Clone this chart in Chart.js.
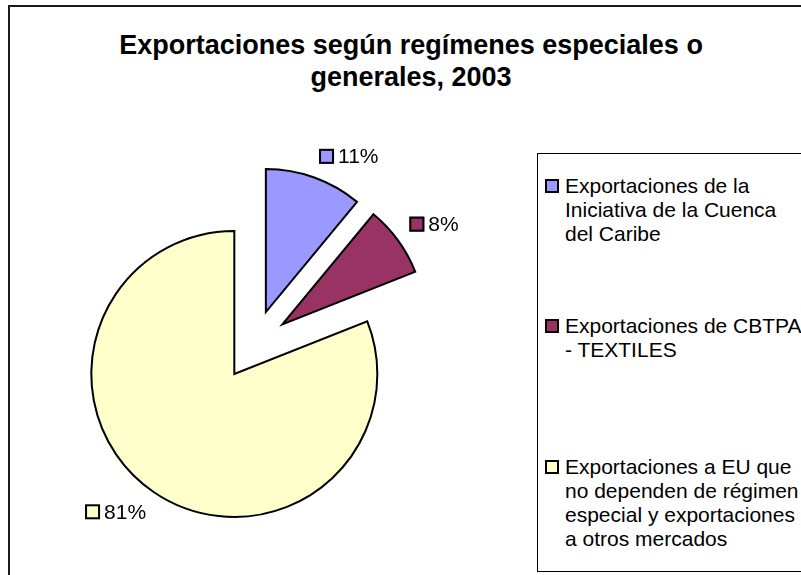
<!DOCTYPE html>
<html>
<head>
<meta charset="utf-8">
<script src="https://cdn.jsdelivr.net/npm/chart.js@4/dist/chart.umd.min.js"></script>
<style>
  html, body { margin: 0; padding: 0; background: #fff; overflow: hidden; }
  body { width: 801px; height: 575px; position: relative; font-family: 'Liberation Sans', Arial, sans-serif; }
  #frame { position: absolute; left: 8px; top: 5px; width: 820px; height: 620px; border: 2px solid #1a1a1a; }
  #title { position: absolute; left: 0; width: 822px; top: 29px; text-align: center;
           font: bold 27px 'Liberation Sans', Arial, sans-serif; line-height: 32px; color: #000; }
  #pie-wrap { position: absolute; left: 34px; top: 115px; width: 440px; height: 460px; }
  #legend { position: absolute; left: 537px; top: 153px; width: 300px; height: 417px; border: 1px solid #000; }
  .item { position: absolute; left: 7px; font-size: 21px; line-height: 24px; color: #000; }
  .item .key { position: absolute; left: 0; top: 5px; width: 10px; height: 10px; border: 2px solid #000; }
  .item .txt { margin-left: 20px; white-space: nowrap; }
</style>
</head>
<body>
<div id="frame"></div>
<div id="title"></div>
<div id="pie-wrap"><canvas id="pie"></canvas></div>
<div id="legend"></div>
<script>
'use strict';

const titleLines = ['Exportaciones según regímenes especiales o', 'generales, 2003'];
const categories = [
  ['Exportaciones de la', 'Iniciativa de la Cuenca', 'del Caribe'],
  ['Exportaciones de CBTPA', '- TEXTILES'],
  ['Exportaciones a EU que', 'no dependen de régimen', 'especial y exportaciones', 'a otros mercados'],
];
const shares = [11, 8, 81];
const colors = ['#9999ff', '#993366', '#ffffcc'];

const EXPLODE = 35;
const legendTops = [20, 160, 301];

function buildTitle() {
  const el = document.getElementById('title');
  titleLines.forEach((line, i) => {
    if (i) el.appendChild(document.createElement('br'));
    el.appendChild(document.createTextNode(line));
  });
}

function buildLegend() {
  const box = document.getElementById('legend');
  categories.forEach((lines, i) => {
    const item = document.createElement('div');
    item.className = 'item';
    item.style.top = legendTops[i] + 'px';
    const key = document.createElement('div');
    key.className = 'key';
    key.style.background = colors[i];
    const txt = document.createElement('div');
    txt.className = 'txt';
    lines.forEach((l, j) => {
      if (j) txt.appendChild(document.createElement('br'));
      txt.appendChild(document.createTextNode(l));
    });
    item.appendChild(key);
    item.appendChild(txt);
    box.appendChild(item);
  });
}

// draw each slice pulled out from the centre along its mid angle
const explodePlugin = {
  id: 'explode',
  beforeDatasetDraw(chart, args) {
    const ctx = chart.ctx;
    for (const arc of args.meta.data) {
      const mid = (arc.startAngle + arc.endAngle) / 2;
      ctx.save();
      ctx.translate(Math.cos(mid) * EXPLODE, Math.sin(mid) * EXPLODE);
      arc.draw(ctx);
      ctx.restore();
    }
    return false;
  },
};

// "outside end" percentage labels with a colour key
const labelPlugin = {
  id: 'pctLabels',
  afterDatasetsDraw(chart) {
    const ctx = chart.ctx;
    const meta = chart.getDatasetMeta(0);
    const total = shares.reduce((a, b) => a + b, 0);
    ctx.save();
    ctx.font = '21px "Liberation Sans", Arial, sans-serif';
    ctx.textBaseline = 'middle';
    ctx.textAlign = 'left';
    meta.data.forEach((arc, i) => {
      const { x, y, startAngle, endAngle, outerRadius } = arc.getProps(['x', 'y', 'startAngle', 'endAngle', 'outerRadius'], true);
      const mid = (startAngle + endAngle) / 2;
      const dx = Math.cos(mid), dy = Math.sin(mid);
      const dist = EXPLODE + outerRadius + 14;
      const px = x + dx * dist, py = y + dy * dist;
      const text = Math.round(shares[i] / total * 100) + '%';
      const w = 15 + 4 + ctx.measureText(text).width;
      const h = 16;
      const left = dx >= 0 ? px : px - w;
      const top = dy < 0 ? py - h : py;
      ctx.fillStyle = colors[i];
      ctx.fillRect(left, top + 0.5, 15, 15);
      ctx.lineWidth = 2;
      ctx.strokeStyle = '#000';
      ctx.strokeRect(left + 1, top + 1.5, 13, 13);
      ctx.fillStyle = '#000';
      ctx.fillText(text, left + 19, top + h / 2 + 1);
    });
    ctx.restore();
  },
};

buildTitle();
buildLegend();

new Chart(document.getElementById('pie'), {
  type: 'pie',
  data: {
    labels: categories,
    datasets: [{
      data: shares,
      backgroundColor: colors,
      borderColor: '#000',
      borderWidth: 2,
      borderJoinStyle: 'miter',
    }],
  },
  options: {
    responsive: true,
    maintainAspectRatio: false,
    animation: false,
    radius: 143,
    layout: { padding: 0 },
    plugins: {
      legend: { display: false },
      tooltip: { enabled: false },
      title: { display: false },
    },
  },
  plugins: [explodePlugin, labelPlugin],
});
</script>
</body>
</html>
